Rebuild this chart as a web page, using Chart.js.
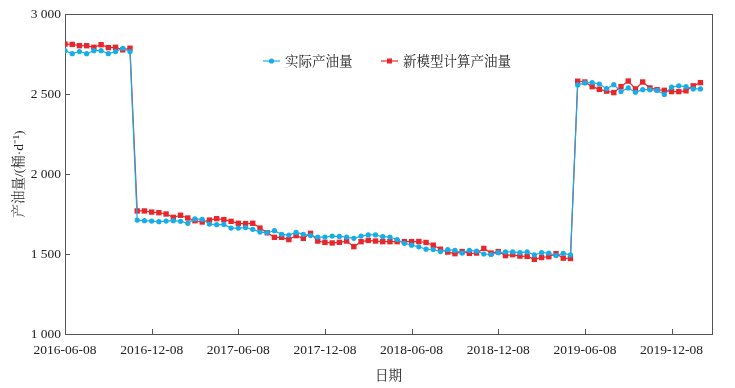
<!DOCTYPE html>
<html>
<head>
<meta charset="utf-8">
<script src="https://cdn.jsdelivr.net/npm/chart.js@4.4.0/dist/chart.umd.min.js"></script>
<style>
  html, body { margin: 0; padding: 0; background: #fff; }
</style>
</head>
<body>
<canvas id="chart" width="735" height="388"></canvas>
<script>
// half-month samples, first one on 2016-06-08
const tickLabels = ['2016-06-08', '2016-12-08', '2017-06-08', '2017-12-08',
  '2018-06-08', '2018-12-08', '2019-06-08', '2019-12-08'];
const yTicks = [1000, 1500, 2000, 2500, 3000];

const actualOil = [
  2771, 2752, 2765, 2752, 2771, 2771, 2752, 2765, 2786, 2765,
  1712, 1708, 1706, 1702, 1706, 1708, 1704, 1692, 1719, 1717,
  1687, 1683, 1685, 1662, 1662, 1665, 1654, 1637, 1633, 1646,
  1623, 1618, 1635, 1623, 1615, 1606, 1606, 1612, 1610, 1606,
  1598, 1612, 1619, 1619, 1608, 1606, 1590, 1567, 1555, 1545,
  1530, 1528, 1515, 1527, 1523, 1506, 1523, 1518, 1500, 1497,
  1508, 1513, 1513, 1508, 1513, 1494, 1508, 1506, 1490, 1504,
  1494,
  2557, 2569, 2572, 2562, 2533, 2558, 2515, 2538, 2511, 2527,
  2527, 2523, 2497, 2543, 2551, 2546, 2532, 2532
];
const modelOil = [
  2812, 2810, 2802, 2802, 2792, 2808, 2790, 2792, 2776, 2786,
  1769, 1769, 1762, 1758, 1750, 1729, 1742, 1725, 1708, 1700,
  1712, 1721, 1715, 1704, 1692, 1690, 1692, 1662, 1633, 1604,
  1604, 1590, 1615, 1598, 1629, 1581, 1573, 1569, 1573, 1581,
  1546, 1577, 1585, 1581, 1577, 1577, 1577, 1577, 1577, 1578,
  1572, 1555, 1530, 1512, 1502, 1515, 1504, 1506, 1535, 1506,
  1515, 1490, 1496, 1487, 1485, 1467, 1478, 1483, 1502, 1474,
  1472,
  2580, 2575, 2546, 2529, 2518, 2509, 2546, 2581, 2532, 2575,
  2538, 2527, 2523, 2515, 2515, 2520, 2551, 2571
];

const BLUE = '#17ade8';
const RED = '#e8262b';
const FONT = '"Liberation Serif", "Noto Serif CJK SC", "Noto Sans CJK SC", serif';

const toPoints = arr => arr.map((v, i) => ({ x: i, y: v }));

function fmtThousands(v) {
  return Math.floor(v / 1000) + ' ' + String(v % 1000).padStart(3, '0');
}

// box round the plot and short inward ticks
const framePlugin = {
  id: 'frame',
  beforeDatasetsDraw(chart) {
    const { ctx, chartArea: a, scales } = chart;
    ctx.save();
    ctx.strokeStyle = '#555';
    ctx.lineWidth = 1;
    ctx.strokeRect(a.left + 0.5, a.top + 0.5, a.right - a.left, a.bottom - a.top);
    ctx.beginPath();
    scales.y.ticks.forEach(t => {
      const y = Math.round(scales.y.getPixelForValue(t.value)) + 0.5;
      ctx.moveTo(a.left, y);
      ctx.lineTo(a.left + 5, y);
    });
    scales.x.ticks.forEach(t => {
      const x = Math.round(scales.x.getPixelForValue(t.value)) + 0.5;
      ctx.moveTo(x, a.bottom);
      ctx.lineTo(x, a.bottom - 5);
    });
    ctx.stroke();
    ctx.restore();
  }
};

// legend with line + marker, like the original
const legendPlugin = {
  id: 'lineLegend',
  afterDatasetsDraw(chart) {
    const { ctx, chartArea: a } = chart;
    const y = a.top + 47;
    const items = [
      { x: a.left + 198, ds: chart.data.datasets[0] },
      { x: a.left + 316, ds: chart.data.datasets[1] }
    ];
    ctx.save();
    ctx.font = '13.5px ' + FONT;
    ctx.textBaseline = 'middle';
    items.forEach(it => {
      const c = it.ds.borderColor;
      ctx.strokeStyle = c;
      ctx.fillStyle = c;
      ctx.lineWidth = 1.2;
      ctx.beginPath();
      ctx.moveTo(it.x, y);
      ctx.lineTo(it.x + 17, y);
      ctx.stroke();
      if (it.ds.pointStyle === 'rect') {
        ctx.fillRect(it.x + 6, y - 2.5, 5, 5);
      } else {
        ctx.beginPath();
        ctx.arc(it.x + 8.5, y, 2.6, 0, Math.PI * 2);
        ctx.fill();
      }
      ctx.fillStyle = '#222';
      ctx.fillText(it.ds.label, it.x + 22, y + 1);
    });
    ctx.restore();
  }
};

new Chart(document.getElementById('chart'), {
  type: 'line',
  data: {
    datasets: [{
      label: '实际产油量',
      data: toPoints(actualOil),
      borderColor: BLUE,
      backgroundColor: BLUE,
      borderWidth: 1.2,
      pointStyle: 'circle',
      pointRadius: 2.6,
      pointBorderWidth: 0,
      tension: 0
    }, {
      label: '新模型计算产油量',
      data: toPoints(modelOil),
      borderColor: RED,
      backgroundColor: RED,
      borderWidth: 1.2,
      pointStyle: 'rect',
      pointRadius: 3.8,
      pointBorderWidth: 0,
      tension: 0
    }]
  },
  options: {
    responsive: false,
    animation: false,
    layout: { padding: { top: 14, right: 23, left: 0, bottom: 0 } },
    plugins: {
      legend: { display: false },
      tooltip: { enabled: false }
    },
    scales: {
      x: {
        type: 'linear',
        min: 0,
        max: 89.6,
        grid: { display: false, drawTicks: false },
        border: { display: false },
        afterBuildTicks: s => { s.ticks = tickLabels.map((_, k) => ({ value: k * 12 })); },
        afterFit: s => { s.height = 54; },
        ticks: {
          autoSkip: false,
          maxRotation: 0,
          padding: 8,
          color: '#222',
          font: { family: FONT, size: 13.5 },
          callback: v => tickLabels[Math.round(v / 12)]
        },
        title: {
          display: true,
          text: '日期',
          color: '#222',
          font: { family: FONT, size: 13.5 },
          padding: { top: 0, bottom: 3 }
        }
      },
      y: {
        min: 1000,
        max: 3000,
        grid: { display: false, drawTicks: false },
        border: { display: false },
        afterBuildTicks: s => { s.ticks = yTicks.map(v => ({ value: v })); },
        afterFit: s => { s.width = 65; },
        ticks: {
          padding: 4,
          color: '#222',
          font: { family: FONT, size: 13.5 },
          callback: v => fmtThousands(v)
        },
        title: {
          display: true,
          text: '产油量/(桶·d⁻¹)',
          color: '#222',
          font: { family: FONT, size: 13.5 },
          padding: { top: 11, bottom: 0 }
        }
      }
    }
  },
  plugins: [framePlugin, legendPlugin]
});
</script>
</body>
</html>
